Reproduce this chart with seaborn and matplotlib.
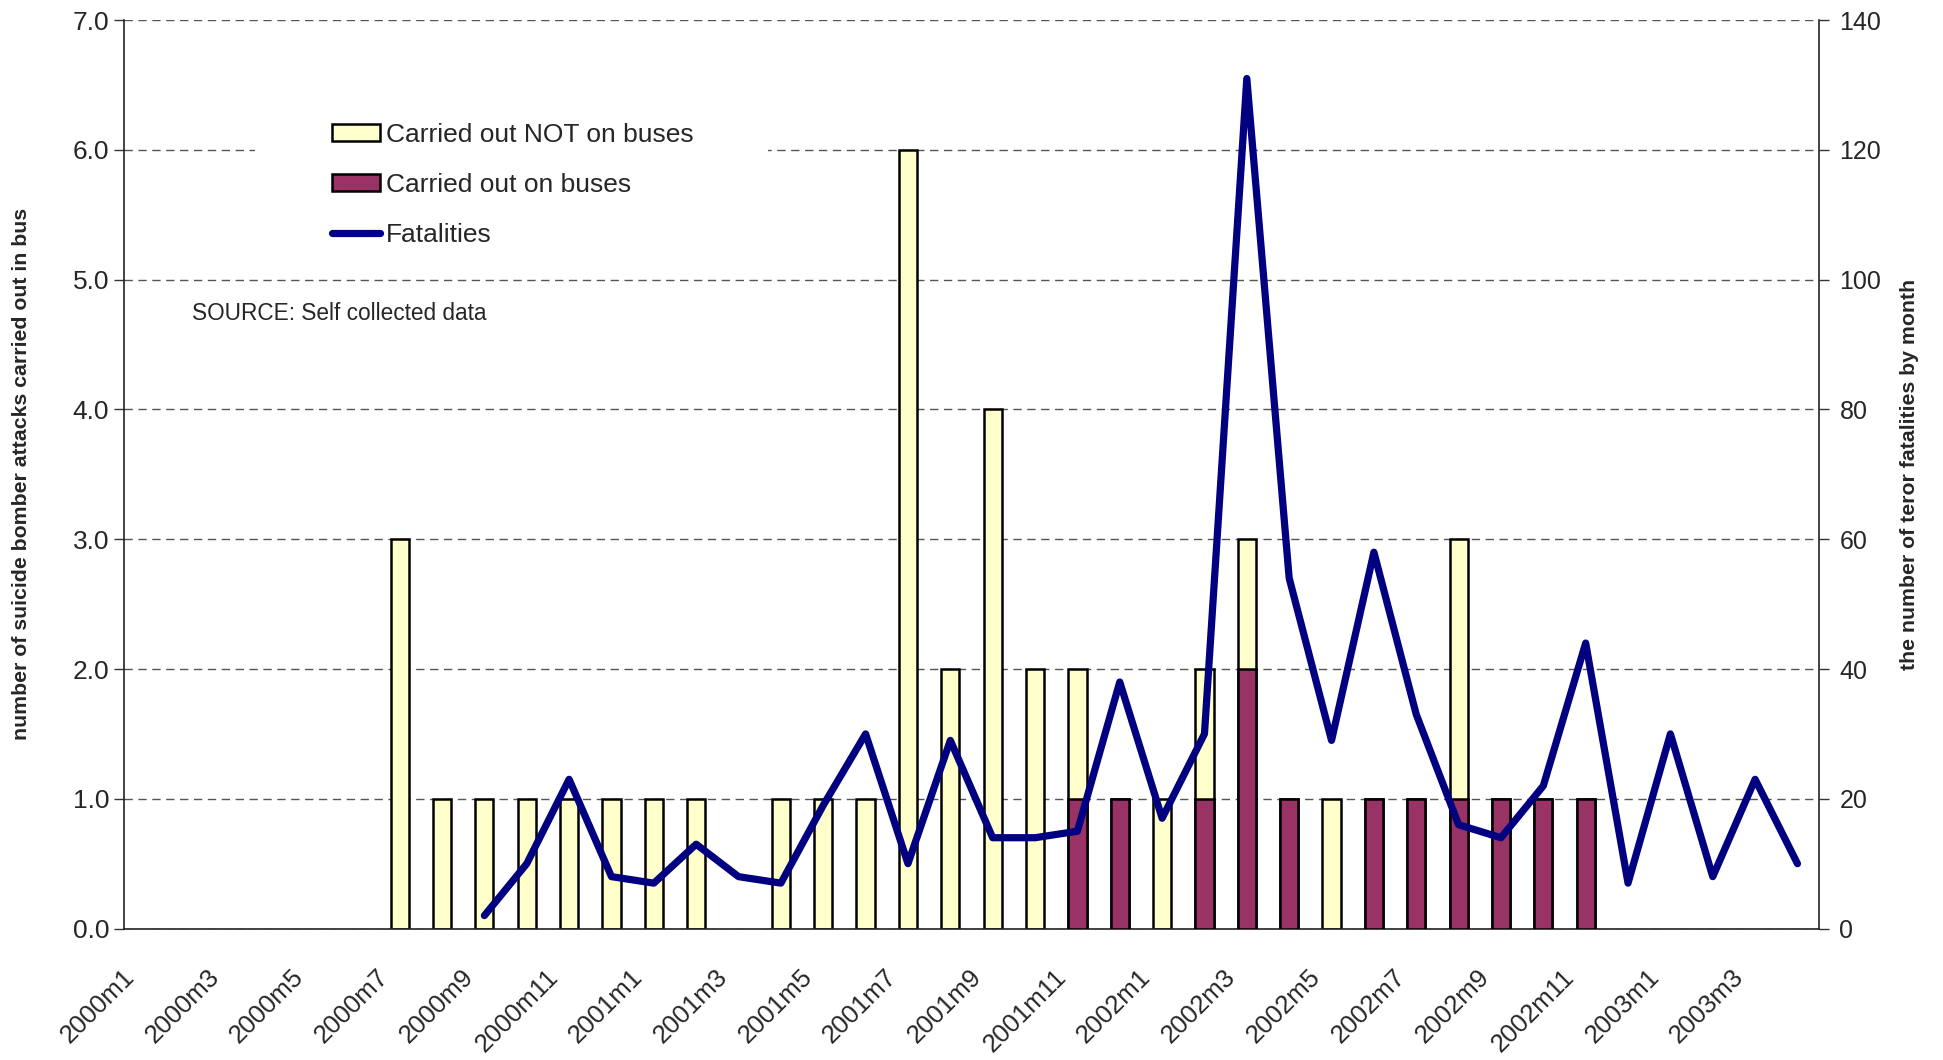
import numpy as np
import pandas as pd
import matplotlib
matplotlib.use("Agg")
import matplotlib.pyplot as plt
import matplotlib.transforms as mtransforms
import seaborn as sns
from matplotlib.patches import Patch, Rectangle
from matplotlib.lines import Line2D

# Monthly categories, January 2000 through April 2003
months = [f"{y}m{m}" for y in (2000, 2001, 2002, 2003) for m in range(1, 13)][:40]

# Suicide bomber attacks per month
not_on_buses = [0, 0, 0, 0, 0, 0, 3, 1, 1, 1,
                1, 1, 1, 1, 0, 1, 1, 1, 6, 2,
                4, 2, 1, 0, 1, 1, 1, 0, 1, 0,
                0, 2, 0, 0, 0, 0, 0, 0, 0, 0]
on_buses = [0, 0, 0, 0, 0, 0, 0, 0, 0, 0,
            0, 0, 0, 0, 0, 0, 0, 0, 0, 0,
            0, 0, 1, 1, 0, 1, 2, 1, 0, 1,
            1, 1, 1, 1, 1, 0, 0, 0, 0, 0]

# Terror fatalities per month, starting 2000m9
fatality_start = "2000m9"
fatalities = [2, 10, 23, 8, 7, 13, 8, 7, 19, 30, 10, 29, 14, 14, 15, 38,
              17, 30, 131, 54, 29, 58, 33, 16, 14, 22, 44, 7, 30, 8, 23, 10]

left_ticks = [0, 1, 2, 3, 4, 5, 6, 7]
right_ticks = [0, 20, 40, 60, 80, 100, 120, 140]

C_NOT = "#FFFFCC"
C_BUS = "#993366"
C_LINE = "#000080"

sns.set_style("white")
plt.rcParams["font.family"] = ["Liberation Sans", "DejaVu Sans"]

fig = plt.figure(figsize=(19.43, 10.60), dpi=100)
ax = fig.add_axes([0.064, 0.124, 0.872, 0.857])

bars = pd.DataFrame({
    "month": months,
    "total": np.add(on_buses, not_on_buses),
    "bus": on_buses,
})

# Stacked bars: the full height in pale yellow, the bus part drawn over it
sns.barplot(data=bars[bars["total"] > 0], x="month", y="total", order=months,
            color=C_NOT, saturation=1, edgecolor="black", linewidth=1.8,
            width=0.43, errorbar=None, ax=ax, zorder=2)
sns.barplot(data=bars[bars["bus"] > 0], x="month", y="bus", order=months,
            color=C_BUS, saturation=1, edgecolor="black", linewidth=1.8,
            width=0.43, errorbar=None, ax=ax, zorder=3)

ax.set_xlim(-0.5, len(months) - 0.5)
ax.set_ylim(0, 7)
ax.set_yticks(left_ticks)
ax.set_yticklabels([f"{v:.1f}" for v in left_ticks], fontsize=19)
ax.set_axisbelow(True)
ax.yaxis.grid(True, linestyle=(0, (6, 4)), color="#555555", linewidth=1.0)
ax.xaxis.grid(False)

# Category ticks: inward marks at centres, outward marks at boundaries
ax.set_xticks(np.arange(len(months)))
ax.set_xticklabels([m if i % 2 == 0 else "" for i, m in enumerate(months)],
                   rotation=45, ha="right", va="center", rotation_mode="anchor",
                   fontsize=18.5)
ax.set_xticks(np.arange(-0.5, len(months), 1), minor=True)
ax.tick_params(axis="x", which="major", direction="in", length=8, width=1,
               pad=32, color="#333333")
ax.tick_params(axis="x", which="minor", direction="out", length=9, width=1,
               color="#333333")
ax.tick_params(axis="y", which="major", direction="out", length=7, width=1,
               left=True, color="#333333", pad=4)
shift = mtransforms.ScaledTranslation(-0.15, 0, fig.dpi_scale_trans)
for lbl in ax.get_xticklabels():
    lbl.set_transform(lbl.get_transform() + shift)
ax.set_xlabel("")
ax.set_ylabel("number of suicide bomber attacks carried out in bus",
              fontsize=15.3, fontweight="bold")
ax.yaxis.set_label_coords(-0.055, 0.5)

for side in ("top", "right"):
    ax.spines[side].set_visible(False)
for side in ("left", "bottom"):
    ax.spines[side].set_color("#222222")
    ax.spines[side].set_linewidth(1.2)

# Fatalities on the secondary axis
ax2 = ax.twinx()
start = months.index(fatality_start)
x_fat = np.arange(start, start + len(fatalities))
sns.lineplot(x=x_fat, y=fatalities, ax=ax2, color=C_LINE, linewidth=5.2,
             zorder=5)
ax2.set_ylim(0, 140)
ax2.set_yticks(right_ticks)
ax2.set_yticklabels([str(v) for v in right_ticks], fontsize=18)
ax2.tick_params(axis="y", direction="out", length=7, width=1, right=True,
                color="#333333", pad=8)
ax2.set_ylabel("the number of teror fatalities by month",
               fontsize=15.3, fontweight="bold")
ax2.yaxis.set_label_coords(1.048, 0.5)
ax2.spines["top"].set_visible(False)
ax2.spines["left"].set_visible(False)
ax2.spines["bottom"].set_visible(False)
ax2.spines["right"].set_color("#222222")
ax2.spines["right"].set_linewidth(1.2)
ax2.grid(False)

# White panel behind the legend
ax2.add_patch(Rectangle((0.077, 0.72), 0.303, 0.185, transform=ax2.transAxes,
                        facecolor="white", edgecolor="none", zorder=1))

handles = [
    Patch(facecolor=C_NOT, edgecolor="black", linewidth=1.8,
          label="Carried out NOT on buses"),
    Patch(facecolor=C_BUS, edgecolor="black", linewidth=1.8,
          label="Carried out on buses"),
    Line2D([], [], color=C_LINE, linewidth=5.2, solid_capstyle="round",
           label="Fatalities"),
]
ax2.legend(handles=handles, loc="upper left", bbox_to_anchor=(0.1227, 0.887),
           frameon=False, fontsize=19, borderpad=0, borderaxespad=0,
           handlelength=1.8, handleheight=0.6, handletextpad=0.25,
           labelspacing=0.98)

ax2.text(0.040, 0.677, "SOURCE: Self collected data", transform=ax2.transAxes,
         fontsize=16.3, ha="left", va="center")

fig.savefig("out.png", dpi=100)
